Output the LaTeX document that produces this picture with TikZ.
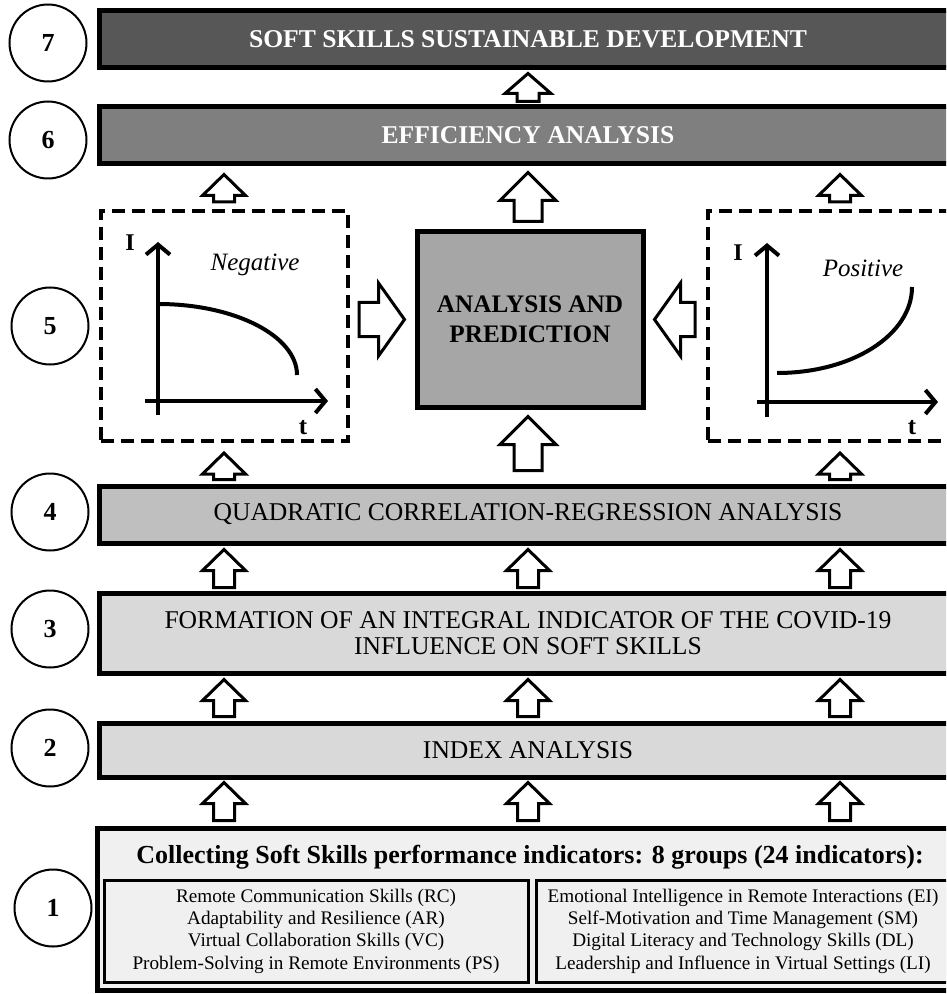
\documentclass[tikz,border=0pt]{standalone}
\usepackage{fontspec}
\setmainfont{Liberation Serif}
\usetikzlibrary{calc,arrows.meta}
\definecolor{lvlseven}{HTML}{575757}
\definecolor{lvlsix}{HTML}{7F7F7F}
\definecolor{lvlfive}{HTML}{A6A6A6}
\definecolor{lvlfour}{HTML}{BFBFBF}
\definecolor{lvlthree}{HTML}{D9D9D9}
\definecolor{lvlone}{HTML}{F0F0F0}
\begin{document}
\begin{tikzpicture}[
    x=0.5pt, y=-0.5pt,
    num/.style={draw, circle, line width=1pt, minimum size=38.5pt, inner sep=0pt,
      font=\fontsize{13}{13}\selectfont\bfseries},
    bar/.style={draw, line width=2.5pt, minimum width=429pt, inner sep=0pt,
      align=center, font=\fontsize{12.8}{13}\selectfont},
    barbold/.style={bar, font=\fontsize{12.8}{15}\selectfont\bfseries},
    dashbox/.style={draw, line width=2pt, dash pattern=on 6.5pt off 3.5pt,
      minimum width=123.5pt, minimum height=115pt},
    group/.style={draw, line width=1.5pt, fill=lvlone, minimum height=51pt,
      inner sep=0pt, align=center, font=\fontsize{9.6}{11.2}\selectfont},
    axis/.style={line width=2pt, -{Straight Barb[length=5pt,width=12pt]}},
    trend/.style={line width=2pt},
    lbl/.style={inner sep=0pt, font=\fontsize{12.5}{12.5}\selectfont},
    blk/.style args={#1/#2/#3}{draw, line width=1.5pt, fill=white, miter limit=10,
      to path={($(\tikztotarget)!#3!(\tikztostart)$) coordinate (hb)
        ($(\tikztostart)!#1!90:(\tikztotarget)$) -- ($(hb)!#1!90:(\tikztotarget)$)
        -- ($(hb)!#2!90:(\tikztotarget)$) -- (\tikztotarget)
        -- ($(hb)!#2!-90:(\tikztotarget)$) -- ($(hb)!#1!-90:(\tikztotarget)$)
        -- ($(\tikztostart)!#1!-90:(\tikztotarget)$) -- cycle}},
    smallarr/.style={blk=5.25pt/10.75pt/10.5pt},
    bigarr/.style={blk=7pt/14pt/14pt},
    toparr/.style={blk=5.5pt/11.5pt/10pt},
    sidearr/.style={blk=8.5pt/18.25pt/13pt}
  ]
  \useasboundingbox (0,0) rectangle (946,994);
  \clip (0,0) rectangle (946,994);

  \coordinate (cl) at (224,0);
  \coordinate (cc) at (528,0);
  \coordinate (cr) at (840,0);

  \node[num] (n7) at (48,43) {7};
  \node[num] (n6) at (48,140) {6};
  \node[num] (n5) at (50,326) {5};
  \node[num] (n4) at (50,512) {4};
  \node[num] (n3) at (50,629) {3};
  \node[num] (n2) at (50,748) {2};
  \node[num] (n1) at (53,908) {1};

  \node[barbold, fill=lvlseven, text=white, minimum height=28.5pt] (b7) at (528,39.5)
    {SOFT SKILLS SUSTAINABLE DEVELOPMENT};
  \node[barbold, fill=lvlsix, text=white, minimum height=28.5pt] (b6) at (528,135.5)
    {EFFICIENCY ANALYSIS};
  \node[dashbox] (neg) at (224.5,326) {};
  \node[dashbox] (pos) at (831.5,326) {};
  \node[draw, line width=2.5pt, fill=lvlfive, minimum width=113pt, minimum height=87.5pt,
    align=center, font=\fontsize{12.6}{15}\selectfont\bfseries] (ap) at (530,319.5)
    {ANALYSIS AND\\PREDICTION};
  \node[bar, fill=lvlfour, minimum height=28.5pt] (b4) at (528,514.5)
    {QUADRATIC CORRELATION-REGRESSION ANALYSIS};
  \node[bar, fill=lvlthree, minimum height=40pt, font=\fontsize{12.8}{13}\selectfont] (b3) at (528,633)
    {FORMATION OF AN INTEGRAL INDICATOR OF THE COVID-19\\INFLUENCE ON SOFT SKILLS};
  \node[bar, fill=lvlthree, minimum height=27pt] (b2) at (528,750) {INDEX ANALYSIS};
  \node[bar, fill=lvlone, minimum width=430pt, minimum height=81pt] (b1) at (527,909) {};
  \node[font=\fontsize{13}{13}\selectfont\bfseries, inner sep=0pt] (b1t) at (530,857)
    {Collecting Soft Skills performance indicators: 8 groups (24 indicators):};
  \node[group, minimum width=212pt] (gl) at (316,931)
    {Remote Communication Skills (RC)\\Adaptability and Resilience (AR)\\
     Virtual Collaboration Skills (VC)\\Problem-Solving in Remote Environments (PS)};
  \node[group, minimum width=207pt] (gr) at (743,931)
    {Emotional Intelligence in Remote Interactions (EI)\\Self-Motivation and Time Management (SM)\\
     Digital Literacy and Technology Skills (DL)\\Leadership and Influence in Virtual Settings (LI)};

  \draw[axis] (158,415) -- (158,242);
  \draw[axis] (145,401) -- (328,401);
  \draw[trend] (158,304) .. controls (235,304) and (297,336) .. (297,375);
  \node[lbl, font=\fontsize{12}{12}\selectfont\bfseries] (negI) at (130,243) {I};
  \node[lbl, font=\fontsize{12.5}{12.5}\selectfont\itshape] (negtxt) at (255,265) {Negative};
  \node[lbl, font=\fontsize{12.5}{12.5}\selectfont\bfseries] (negt) at (303,428) {t};

  \draw[axis] (767,417) -- (767,243);
  \draw[axis] (757,402) -- (938,402);
  \draw[trend] (777,373) .. controls (852,373) and (912,335) .. (912,287);
  \node[lbl, font=\fontsize{12}{12}\selectfont\bfseries] (posI) at (738,253) {I};
  \node[lbl, font=\fontsize{12.5}{12.5}\selectfont\itshape] (postxt) at (863,268) {Positive};
  \node[lbl, font=\fontsize{12.5}{12.5}\selectfont\bfseries] (post) at (912,428) {t};

  \draw[toparr] ([yshift=1.5pt]b6.north) to ([yshift=-1.5pt]b7.south);
  \draw[smallarr] ([yshift=3.5pt]neg.north -| cl) to ([yshift=-4pt]b6.south -| cl);
  \draw[bigarr] ([yshift=4pt]ap.north -| cc) to ([yshift=-3pt]b6.south -| cc);
  \draw[smallarr] ([yshift=3.5pt]pos.north -| cr) to ([yshift=-4pt]b6.south -| cr);
  \draw[sidearr] ([xshift=4.5pt]neg.east |- ap.west) to ([xshift=-5pt]ap.west);
  \draw[sidearr] ([xshift=-5.5pt]pos.west |- ap.east) to ([xshift=4.5pt]ap.east);
  \draw[bigarr] ([yshift=6.5pt]b4.north -| cc) to ([yshift=-3.5pt]ap.south -| cc);
  \draw[smallarr] ([yshift=2pt]b4.north -| cl) to ([yshift=-5pt]neg.south -| cl);
  \draw[smallarr] ([yshift=2pt]b4.north -| cr) to ([yshift=-5pt]pos.south -| cr);
  \foreach \c in {cl,cc,cr} {
    \draw[smallarr] ([yshift=1.5pt]b3.north -| \c) to ([yshift=-2pt]b4.south -| \c);
    \draw[smallarr] ([yshift=2pt]b2.north -| \c) to ([yshift=-2pt]b3.south -| \c);
    \draw[smallarr] ([yshift=2.5pt]b1.north -| \c) to ([yshift=-1.5pt]b2.south -| \c);
  }
\end{tikzpicture}
\end{document}
